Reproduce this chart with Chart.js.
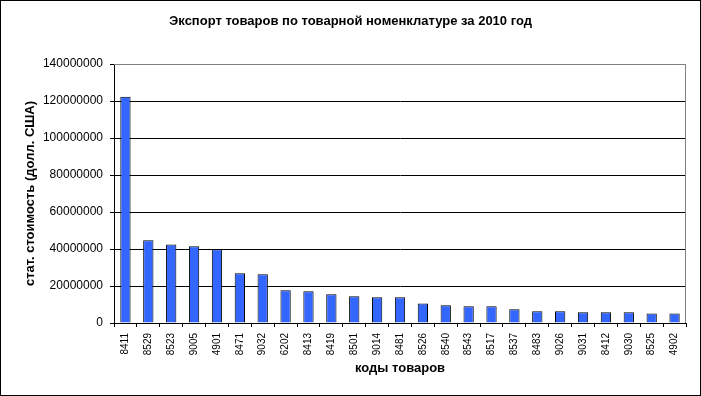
<!DOCTYPE html>
<html>
<head>
<meta charset="utf-8">
<script src="https://cdn.jsdelivr.net/npm/chart.js@4"></script>
<style>
  body { margin: 0; background: #fff; }
  #wrap { width: 701px; height: 396px; }
</style>
</head>
<body>
<div id="wrap"><canvas id="barChart" width="701" height="396"></canvas></div>
<script>
const codes = ['8411', '8529', '8523', '9005', '4901', '8471', '9032', '6202', '8413', '8419', '8501', '9014', '8481',
  '8526', '8540', '8543', '8517', '8537', '8483', '9026', '9031', '8412', '9030', '8525', '4902'];
const values = [122300000, 44700000, 42500000, 41500000, 39800000, 26900000, 26300000, 17700000, 17100000, 15500000,
  14400000, 13900000, 13900000, 10600000, 9600000, 9000000, 9000000, 7400000, 6300000, 6300000,
  5800000, 5800000, 5800000, 5200000, 5200000];
const yTicks = [0, 20000000, 40000000, 60000000, 80000000, 100000000, 120000000, 140000000];

const chartTitle = 'Экспорт товаров по товарной номенклатуре за 2010 год';
const xTitle = 'коды товаров';
const yTitle = 'стат. стоимость (долл. США)';

const frame = {
  id: 'frame',
  beforeDatasetsDraw(chart) {
    const a = chart.chartArea;
    const ctx = chart.ctx;
    ctx.save();
    ctx.strokeStyle = '#808080';
    ctx.lineWidth = 1;
    ctx.beginPath();
    ctx.moveTo(a.left, a.top + 0.5);
    ctx.lineTo(a.right - 0.5, a.top + 0.5);
    ctx.lineTo(a.right - 0.5, a.bottom);
    ctx.stroke();
    ctx.restore();
  },
  afterDraw(chart) {
    const ctx = chart.ctx;
    ctx.save();
    ctx.strokeStyle = '#000';
    ctx.lineWidth = 1;
    ctx.strokeRect(0.5, 0.5, chart.width - 1, chart.height - 1);
    ctx.restore();
  }
};

new Chart(document.getElementById('barChart'), {
  type: 'bar',
  data: {
    labels: codes,
    datasets: [{
      data: values,
      backgroundColor: '#3366FF',
      borderColor: '#000',
      borderWidth: 1,
      barPercentage: 0.45,
      categoryPercentage: 1
    }]
  },
  options: {
    responsive: false,
    animation: false,
    layout: { padding: 0 },
    plugins: {
      legend: { display: false },
      tooltip: { enabled: false },
      title: {
        display: true,
        text: chartTitle,
        color: '#000',
        font: { family: 'Liberation Sans, Arial', size: 13, weight: 'bold', lineHeight: 1.2 },
        padding: { top: 14, bottom: 34.4 }
      }
    },
    scales: {
      x: {
        offset: true,
        grid: { offset: true, drawOnChartArea: false, color: '#000', tickLength: 4 },
        border: { color: '#000' },
        ticks: {
          color: '#000',
          minRotation: 90,
          maxRotation: 90,
          autoSkip: false,
          padding: 6,
          font: { family: 'Liberation Sans, Arial', size: 10 }
        },
        title: {
          display: true,
          text: xTitle,
          color: '#000',
          font: { family: 'Liberation Sans, Arial', size: 13, weight: 'bold', lineHeight: 1.2 },
          padding: { top: 0, bottom: 20.2 }
        },
        afterFit(scale) { scale.height = 73; }
      },
      y: {
        min: 0,
        max: 140000000,
        afterBuildTicks(scale) { scale.ticks = yTicks.map(v => ({ value: v })); },
        grid: {
          color: ctx => (ctx.tick && ctx.tick.value === 140000000 ? '#808080' : '#000'),
          tickColor: '#000',
          tickLength: 4
        },
        border: { color: '#000' },
        ticks: {
          color: '#000',
          padding: 7,
          font: { family: 'Liberation Sans, Arial', size: 12 },
          callback: v => String(v)
        },
        title: {
          display: true,
          text: yTitle,
          color: '#000',
          font: { family: 'Liberation Sans, Arial', size: 13, weight: 'bold', lineHeight: 1.2 },
          padding: { top: 22.2, bottom: 0 }
        },
        afterFit(scale) { scale.width = 114; }
      },
      spacer: {
        position: 'right',
        grid: { display: false },
        border: { display: false },
        ticks: { display: false },
        afterFit(scale) { scale.width = 15; }
      }
    }
  },
  plugins: [frame]
});
</script>
</body>
</html>
